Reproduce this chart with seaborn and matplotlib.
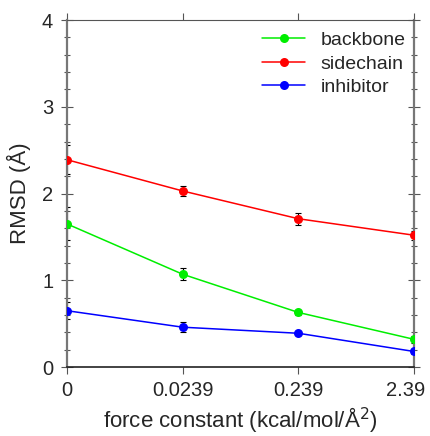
import matplotlib
matplotlib.use("Agg")
import matplotlib.pyplot as plt
import matplotlib.transforms as mtransforms
import numpy as np
import pandas as pd
import seaborn as sns

force_labels = ["0", "0.0239", "0.239", "2.39"]
backbone = [1.65, 1.07, 0.63, 0.32]
backbone_err = [0.19, 0.07, 0.03, 0.04]
sidechain = [2.39, 2.03, 1.71, 1.52]
sidechain_err = [0.17, 0.06, 0.07, 0.05]
inhibitor = [0.65, 0.46, 0.39, 0.18]
inhibitor_err = [0.10, 0.06, 0.02, 0.03]

series = {"backbone": (backbone, backbone_err, "#00ee00"),
          "sidechain": (sidechain, sidechain_err, "#ff0000"),
          "inhibitor": (inhibitor, inhibitor_err, "#0000ff")}

rows = []
for name, (vals, errs, _) in series.items():
    for i, (v, e) in enumerate(zip(vals, errs)):
        rows.append({"pos": i, "rmsd": v, "err": e, "group": name})
df = pd.DataFrame(rows)

sns.set_style("ticks")
plt.rcParams["font.family"] = ["Liberation Sans", "DejaVu Sans"]

fig, ax = plt.subplots(figsize=(4.30, 4.36), dpi=100)
fig.subplots_adjust(left=0.156, right=0.963, top=0.954, bottom=0.158)

for name, (vals, errs, col) in series.items():
    sub = df[df["group"] == name]
    ax.errorbar(sub["pos"], sub["rmsd"], yerr=sub["err"], fmt="none",
                ecolor="black", elinewidth=0.8, capsize=2.5, capthick=0.8, zorder=2)

palette = {k: v[2] for k, v in series.items()}
sns.lineplot(data=df, x="pos", y="rmsd", hue="group", palette=palette,
             marker="o", markersize=6.5, markeredgewidth=0, linewidth=1.1,
             ax=ax, zorder=3)

ax.set_xlim(0, 3)
ax.set_ylim(0, 4)
ax.set_xticks(range(len(force_labels)))
ax.set_xticklabels(force_labels)
ax.set_yticks([0, 1, 2, 3, 4])
ax.set_yticks(np.arange(0, 4.01, 0.2), minor=True)
ax.tick_params(axis="x", direction="out", length=5, width=0.8, labelsize=14.5,
               top=True, color="#555555", pad=5)
ax.tick_params(axis="y", which="major", direction="inout", length=8, width=0.8,
               labelsize=14.5, right=True, color="#555555", pad=6)
ax.tick_params(axis="y", which="minor", direction="inout", length=5, width=0.8,
               right=True, color="#555555")
for side in ["left", "right"]:
    ax.spines[side].set_color("#777777")
    ax.spines[side].set_linewidth(1.6)
ax.spines["top"].set_color("#555555")
ax.spines["bottom"].set_color("#222222")
ax.spines["bottom"].set_linewidth(1.2)

# keep the last tick label inside the figure
last = ax.get_xticklabels()[-1]
last.set_transform(last.get_transform() +
                   mtransforms.ScaledTranslation(-6 / 72, 0, fig.dpi_scale_trans))

ax.set_xlabel("force constant (kcal/mol/Å$^2$)", fontsize=16, labelpad=4)
ax.set_ylabel("RMSD (Å)", fontsize=16, labelpad=8)

handles, labels = ax.get_legend_handles_labels()
ax.legend(handles, labels, loc="upper right", frameon=False, fontsize=14,
          handlelength=2.2, labelspacing=0.3, borderaxespad=0.4,
          bbox_to_anchor=(1.02, 1.012))

fig.savefig("out.png", dpi=100)
